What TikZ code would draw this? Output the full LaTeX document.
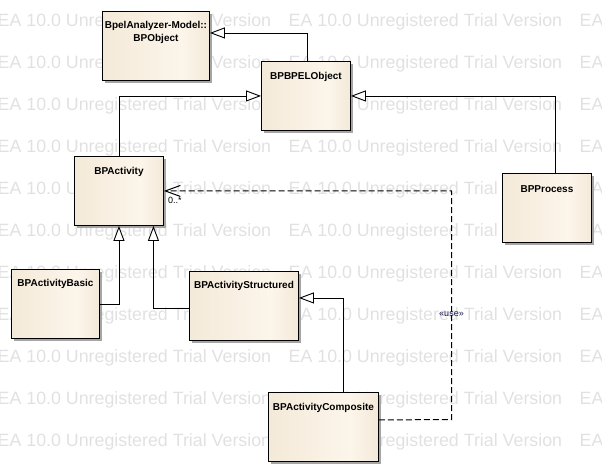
\documentclass[tikz,border=0pt]{standalone}
\usepackage{fontspec}
\setmainfont{Liberation Sans}
\usetikzlibrary{arrows.meta}

\definecolor{classleft}{RGB}{238,226,205}
\definecolor{classmid}{RGB}{252,245,234}
\definecolor{classright}{RGB}{228,212,186}
\definecolor{markgray}{RGB}{225,225,225}
\definecolor{shadowgray}{RGB}{165,165,165}
\definecolor{usenavy}{RGB}{20,20,80}
\pgfdeclarehorizontalshading{classfill}{100bp}{color(0bp)=(classleft); color(62bp)=(classmid); color(100bp)=(classright)}

\begin{document}
\begin{tikzpicture}[x=1pt, y=-1pt,
    watermark/.style={anchor=base west, inner sep=0pt, text=markgray, font=\fontsize{17.8}{20}\selectfont},
    umlclass/.style={draw, line width=0.9pt, shade, shading=classfill, anchor=north west,
        inner sep=0pt, minimum width=#1, minimum height=69pt,
        preaction={fill=shadowgray, transform canvas={shift={(3pt,-3pt)}}}},
    classname/.style={inner sep=0pt, align=center, font=\bfseries\fontsize{10}{13}\selectfont},
    inherit/.style={draw, line width=0.9pt, -{Triangle[length=15pt, width=11pt, fill=white]}},
    use/.style={draw, line width=1pt, dash pattern=on 6pt off 3pt, -{Straight Barb[length=15pt, width=11pt]}},
    smalllabel/.style={inner sep=0pt, font=\fontsize{9}{10}\selectfont}]
    \useasboundingbox (0,0) rectangle (602,472);

    % trial version watermark
    \begin{scope}
        \clip (0,0) rectangle (602,472);
        \foreach \r in {0,...,10}
            \foreach \c in {0,1,2}
                \node[watermark] (wm\r\c) at ({-2.5+291*\c},{26+42*\r}) {EA 10.0 Unregistered Trial Version};
    \end{scope}

    % classes
    \node[umlclass=107pt] (obj) at (102,11) {};
    \node[umlclass=89pt] (bpelobj) at (261,61) {};
    \node[umlclass=89pt] (activity) at (74,156) {};
    \node[umlclass=89pt] (process) at (502,173) {};
    \node[umlclass=88pt] (basic) at (11,269) {};
    \node[umlclass=109pt] (structured) at (189,271) {};
    \node[umlclass=110pt] (composite) at (268,392) {};

    % class names
    \node[classname] (objname) at ([yshift=-21.5pt]obj.north) {BpelAnalyzer-Model::\\BPObject};
    \node[classname] (bpelobjname) at ([yshift=-16pt]bpelobj.north) {BPBPELObject};
    \node[classname] (activityname) at ([yshift=-16pt]activity.north) {BPActivity};
    \node[classname] (processname) at ([yshift=-16pt]process.north) {BPProcess};
    \node[classname] (basicname) at ([yshift=-15pt]basic.north) {BPActivityBasic};
    \node[classname] (structuredname) at ([yshift=-15pt]structured.north) {BPActivityStructured};
    \node[classname] (compositename) at ([yshift=-16pt]composite.north) {BPActivityComposite};

    % generalizations
    \draw[inherit] ([xshift=1.5pt]bpelobj.north) |- ([yshift=13pt]obj.east);
    \draw[inherit] (activity.north) |- (bpelobj.west);
    \draw[inherit] ([xshift=8.5pt]process.north) |- (bpelobj.east);
    \draw[inherit] (basic.east) -| (activity.south);
    \draw[inherit] ([yshift=-2pt]structured.west) -| ([xshift=34.5pt]activity.south);
    \draw[inherit] ([xshift=20pt]composite.north) |- ([yshift=8pt]structured.east);

    % dependency
    \coordinate (usecorner) at (451.5,419.5);
    \draw[use] ([yshift=7pt]composite.east) -- (usecorner) |- (activity.east)
        node[pos=0.23, smalllabel, text=usenavy] (uselabel) {«use»};
    \node[smalllabel, anchor=north west] (mult) at ([xshift=4pt,yshift=-6pt]activity.east) {0..*};

\end{tikzpicture}
\end{document}
